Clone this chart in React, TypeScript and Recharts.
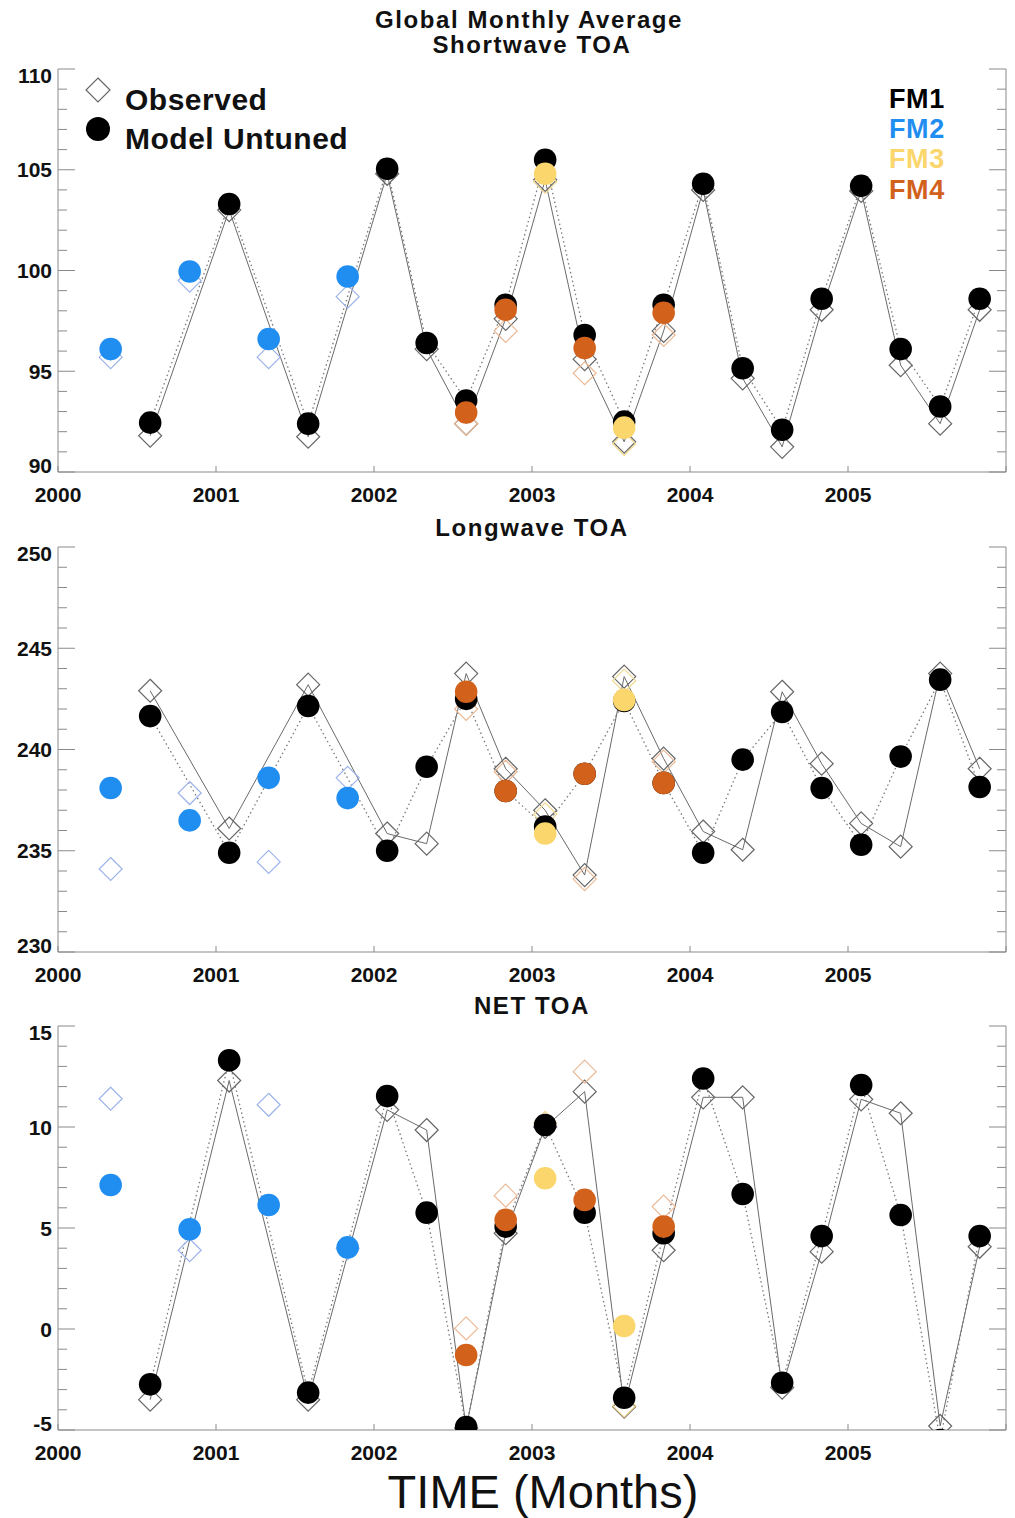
import React from 'react';
import { ComposedChart, Line, XAxis, YAxis } from 'recharts';

// quarterly sample months (year-month)
const months = [
  '2000-04', '2000-07', '2000-10',
  '2001-01', '2001-04', '2001-07', '2001-10',
  '2002-01', '2002-04', '2002-07', '2002-10',
  '2003-01', '2003-04', '2003-07', '2003-10',
  '2004-01', '2004-04', '2004-07', '2004-10',
  '2005-01', '2005-04', '2005-07', '2005-10',
];
const yearTicks = [2000, 2001, 2002, 2003, 2004, 2005, 2006];
const yearLabels = ['2000', '2001', '2002', '2003', '2004', '2005', ''];

const n = null;

// Shortwave TOA
const swFm1Obs = [n, 91.8, n, 103.0, n, 91.75, n, 104.8, 96.1, 92.4, 97.6, 104.5, 95.6, 91.5, 97.0, 104.0, 94.65, 91.25, 98.05, 103.95, 95.3, 92.4, 98.05];
const swFm1Mod = [n, 92.45, n, 103.3, n, 92.4, n, 105.05, 96.4, 93.55, 98.3, 105.5, 96.8, 92.5, 98.3, 104.3, 95.15, 92.1, 98.6, 104.2, 96.1, 93.25, 98.6];
const swFm2Obs = [95.7, n, 99.5, n, 95.7, n, 98.7, n, n, n, n, n, n, n, n, n, n, n, n, n, n, n, n];
const swFm2Mod = [96.1, n, 99.95, n, 96.6, n, 99.7, n, n, n, n, n, n, n, n, n, n, n, n, n, n, n, n];
const swFm3Obs = [n, n, n, n, n, n, n, n, n, n, n, 104.4, n, 91.4, n, n, n, n, n, n, n, n, n];
const swFm3Mod = [n, n, n, n, n, n, n, n, n, n, n, 104.8, n, 92.2, n, n, n, n, n, n, n, n, n];
const swFm4Obs = [n, n, n, n, n, n, n, n, n, 92.4, 97.0, n, 94.9, n, 96.8, n, n, n, n, n, n, n, n];
const swFm4Mod = [n, n, n, n, n, n, n, n, n, 92.95, 98.05, n, 96.15, n, 97.9, n, n, n, n, n, n, n, n];

// Longwave TOA
const lwFm1Obs = [n, 242.9, n, 236.1, n, 243.2, n, 235.85, 235.35, 243.75, 239.05, 237.0, 233.8, 243.6, 239.55, 235.95, 235.05, 242.85, 239.3, 236.35, 235.2, 243.75, 239.05];
const lwFm1Mod = [n, 241.65, n, 234.9, n, 242.15, n, 235.0, 239.15, 242.5, 237.95, 236.2, 238.8, 242.4, 238.35, 234.9, 239.5, 241.85, 238.1, 235.3, 239.65, 243.45, 238.15];
const lwFm2Obs = [234.1, n, 237.85, n, 234.45, n, 238.6, n, n, n, n, n, n, n, n, n, n, n, n, n, n, n, n];
const lwFm2Mod = [238.1, n, 236.5, n, 238.6, n, 237.6, n, n, n, n, n, n, n, n, n, n, n, n, n, n, n, n];
const lwFm3Obs = [n, n, n, n, n, n, n, n, n, n, n, 236.8, n, 243.4, n, n, n, n, n, n, n, n, n];
const lwFm3Mod = [n, n, n, n, n, n, n, n, n, n, n, 235.85, n, 242.45, n, n, n, n, n, n, n, n, n];
const lwFm4Obs = [n, n, n, n, n, n, n, n, n, 242.0, 238.9, n, 233.6, n, 239.4, n, n, n, n, n, n, n, n];
const lwFm4Mod = [n, n, n, n, n, n, n, n, n, 242.85, 237.95, n, 238.8, n, 238.35, n, n, n, n, n, n, n, n];

// NET TOA
const netFm1Obs = [n, -3.5, n, 12.3, n, -3.5, n, 10.85, 9.85, -4.9, 4.74, 10.0, 11.75, -3.85, 3.9, 11.47, 11.47, -2.9, 3.83, 11.37, 10.68, -4.8, 4.07];
const netFm1Mod = [n, -2.74, n, 13.3, n, -3.15, n, 11.53, 5.76, -4.85, 5.07, 10.1, 5.76, -3.4, 4.74, 12.4, 6.68, -2.66, 4.6, 12.08, 5.64, -5.5, 4.6];
const netFm2Obs = [11.4, n, 3.9, n, 11.1, n, 4.0, n, n, n, n, n, n, n, n, n, n, n, n, n, n, n, n];
const netFm2Mod = [7.13, n, 4.94, n, 6.14, n, 4.04, n, n, n, n, n, n, n, n, n, n, n, n, n, n, n, n];
const netFm3Obs = [n, n, n, n, n, n, n, n, n, n, n, 10.2, n, -3.8, n, n, n, n, n, n, n, n, n];
const netFm3Mod = [n, n, n, n, n, n, n, n, n, n, n, 7.46, n, 0.15, n, n, n, n, n, n, n, n, n];
const netFm4Obs = [n, n, n, n, n, n, n, n, n, 0.03, 6.6, n, 12.74, n, 6.06, n, n, n, n, n, n, n, n];
const netFm4Mod = [n, n, n, n, n, n, n, n, n, -1.29, 5.4, n, 6.39, n, 5.07, n, n, n, n, n, n, n, n];

const AX = '#8a8a8a';
const FONT = '"Liberation Sans", Arial, Helvetica, sans-serif';
const C_FM1 = '#000000';
const C_FM2 = '#1f8ef0';
const C_FM3 = '#fad66c';
const C_FM4 = '#d2611c';

function toYear(m: string) {
  const [y, mo] = m.split('-').map(Number);
  return y + mo / 12;
}

function buildRows(s: (number | null)[][]) {
  return months.map((m, i) => ({
    t: toYear(m),
    fm1Obs: s[0][i], fm1Mod: s[1][i],
    fm2Obs: s[2][i], fm2Mod: s[3][i],
    fm3Obs: s[4][i], fm3Mod: s[5][i],
    fm4Obs: s[6][i], fm4Mod: s[7][i],
  }));
}

const swRows = buildRows([swFm1Obs, swFm1Mod, swFm2Obs, swFm2Mod, swFm3Obs, swFm3Mod, swFm4Obs, swFm4Mod]);
const lwRows = buildRows([lwFm1Obs, lwFm1Mod, lwFm2Obs, lwFm2Mod, lwFm3Obs, lwFm3Mod, lwFm4Obs, lwFm4Mod]);
const netRows = buildRows([netFm1Obs, netFm1Mod, netFm2Obs, netFm2Mod, netFm3Obs, netFm3Mod, netFm4Obs, netFm4Mod]);

const diamond = (stroke: string) => (p: any) => {
  const k = `dm-${p.index}`;
  if (p.value == null || p.cy == null || isNaN(p.cy)) return <g key={k} />;
  const s = 11.5;
  return (
    <polygon key={k}
      points={`${p.cx},${p.cy - s} ${p.cx + s},${p.cy} ${p.cx},${p.cy + s} ${p.cx - s},${p.cy}`}
      fill="none" stroke={stroke} strokeWidth={1.2} />
  );
};

const disc = (fill: string) => (p: any) => {
  const k = `dc-${p.index}`;
  if (p.value == null || p.cy == null || isNaN(p.cy)) return <g key={k} />;
  return <circle key={k} cx={p.cx} cy={p.cy} r={11.3} fill={fill} />;
};

const makeLeftTick = (lo: number, hi: number) => (p: any) => {
  const v = p.payload.value;
  const major = v % 5 === 0;
  let dy = 7.5;
  if (v === hi) dy = 14;
  if (v === lo) dy = 1;
  return (
    <g>
      <line x1={p.x} y1={p.y} x2={p.x + (major ? 17 : 9)} y2={p.y} stroke={AX} strokeWidth={1} />
      {major && (
        <text x={p.x - 6} y={p.y + dy} textAnchor="end" fontFamily={FONT} fontWeight={700} fontSize={21} fill="#111">{v}</text>
      )}
    </g>
  );
};

const rightTick = (p: any) => {
  const major = p.payload.value % 5 === 0;
  return <line x1={p.x} y1={p.y} x2={p.x - (major ? 17 : 9)} y2={p.y} stroke={AX} strokeWidth={1} />;
};

const bottomTick = (p: any) => {
  const i = yearTicks.indexOf(p.payload.value);
  return (
    <g>
      <line x1={p.x} y1={p.y} x2={p.x} y2={p.y - 6} stroke={AX} strokeWidth={1} />
      <text x={p.x} y={p.y + 30} textAnchor="middle" fontFamily={FONT} fontWeight={700} fontSize={21} fill="#111">{yearLabels[i]}</text>
    </g>
  );
};

const topTick = (p: any) => <line x1={p.x} y1={p.y} x2={p.x} y2={p.y + 6} stroke={AX} strokeWidth={1} />;

function Panel({ rows, lo, hi, plotTop, plotBottom }: { rows: any[]; lo: number; hi: number; plotTop: number; plotBottom: number }) {
  const height = plotBottom - plotTop + 100;
  const yTicks: number[] = [];
  for (let v = lo; v <= hi; v++) yTicks.push(v);
  const ax = { xAxisId: 'b', yAxisId: 'l' };
  return (
    <div style={{ position: 'absolute', left: 0, top: plotTop - 60 }}>
      <ComposedChart width={1015} height={height} data={rows} margin={{ top: 60, right: 0, bottom: 10, left: 0 }}>
        <XAxis xAxisId="b" dataKey="t" type="number" domain={[2000, 2006]} ticks={yearTicks} interval={0}
          height={30} tickSize={0} tickMargin={0} tickLine={false} axisLine={{ stroke: AX }} tick={bottomTick} allowDataOverflow />
        <XAxis xAxisId="t" orientation="top" dataKey="t" type="number" domain={[2000, 2006]} ticks={yearTicks} interval={0}
          height={0} tickSize={0} tickMargin={0} tickLine={false} axisLine={{ stroke: AX }} tick={topTick} allowDataOverflow />
        <YAxis yAxisId="l" type="number" domain={[lo, hi]} ticks={yTicks} interval={0} width={58}
          tickSize={0} tickMargin={0} tickLine={false} axisLine={{ stroke: AX }} tick={makeLeftTick(lo, hi)} allowDataOverflow />
        <YAxis yAxisId="r" orientation="right" type="number" domain={[lo, hi]} ticks={yTicks} interval={0} width={9}
          tickSize={0} tickMargin={0} tickLine={false} axisLine={{ stroke: AX }} tick={rightTick} allowDataOverflow />

        <Line {...ax} dataKey="fm1Obs" stroke="#6a6a6a" strokeWidth={1} dot={false} connectNulls isAnimationActive={false} />
        <Line {...ax} dataKey="fm1Mod" stroke="#7a7a7a" strokeWidth={1.3} strokeDasharray="1.5 3" dot={false} connectNulls isAnimationActive={false} />

        <Line {...ax} dataKey="fm1Obs" stroke="none" dot={diamond('#666666')} activeDot={false} isAnimationActive={false} />
        <Line {...ax} dataKey="fm2Obs" stroke="none" dot={diamond('#9db4ea')} activeDot={false} isAnimationActive={false} />
        <Line {...ax} dataKey="fm3Obs" stroke="none" dot={diamond('#f1d88f')} activeDot={false} isAnimationActive={false} />
        <Line {...ax} dataKey="fm4Obs" stroke="none" dot={diamond('#ebb995')} activeDot={false} isAnimationActive={false} />

        <Line {...ax} dataKey="fm1Mod" stroke="none" dot={disc(C_FM1)} activeDot={false} isAnimationActive={false} />
        <Line {...ax} dataKey="fm2Mod" stroke="none" dot={disc(C_FM2)} activeDot={false} isAnimationActive={false} />
        <Line {...ax} dataKey="fm3Mod" stroke="none" dot={disc(C_FM3)} activeDot={false} isAnimationActive={false} />
        <Line {...ax} dataKey="fm4Mod" stroke="none" dot={disc(C_FM4)} activeDot={false} isAnimationActive={false} />
      </ComposedChart>
    </div>
  );
}

export default function App() {
  const title = { fontFamily: FONT, fontWeight: 700, fontSize: 24, letterSpacing: 1.6, fill: '#111', textAnchor: 'middle' as const };
  const leg = { fontFamily: FONT, fontWeight: 700, fontSize: 30, letterSpacing: 0.5, fill: '#111' };
  const fm = { fontFamily: FONT, fontWeight: 700, fontSize: 27, letterSpacing: 0.6 };
  return (
    <div style={{ position: 'absolute', left: 0, top: 0, width: 1015, height: 1518, background: '#fff', overflow: 'hidden' }}>
      <Panel rows={swRows} lo={90} hi={110} plotTop={69} plotBottom={472} />
      <Panel rows={lwRows} lo={230} hi={250} plotTop={547} plotBottom={952} />
      <Panel rows={netRows} lo={-5} hi={15} plotTop={1026} plotBottom={1430} />
      <svg width={1015} height={1518} style={{ position: 'absolute', left: 0, top: 0, pointerEvents: 'none' }}>
        <text x={529} y={28} {...title}>Global Monthly Average</text>
        <text x={532} y={53} {...title}>Shortwave TOA</text>
        <text x={532} y={536} {...title}>Longwave TOA</text>
        <text x={532} y={1014} {...title}>NET TOA</text>

        <polygon points="98,78 110,90 98,102 86,90" fill="none" stroke="#666" strokeWidth={1.2} />
        <circle cx={98} cy={129} r={12} fill="#000" />
        <text x={125} y={110} {...leg}>Observed</text>
        <text x={125} y={149} {...leg}>Model Untuned</text>

        <text x={889} y={108} {...fm} fill={C_FM1}>FM1</text>
        <text x={889} y={138} {...fm} fill={C_FM2}>FM2</text>
        <text x={889} y={168} {...fm} fill={C_FM3}>FM3</text>
        <text x={889} y={199} {...fm} fill={C_FM4}>FM4</text>

        <text x={543} y={1508} textAnchor="middle" fontFamily={FONT} fontSize={47} fill="#111">TIME (Months)</text>
      </svg>
    </div>
  );
}
